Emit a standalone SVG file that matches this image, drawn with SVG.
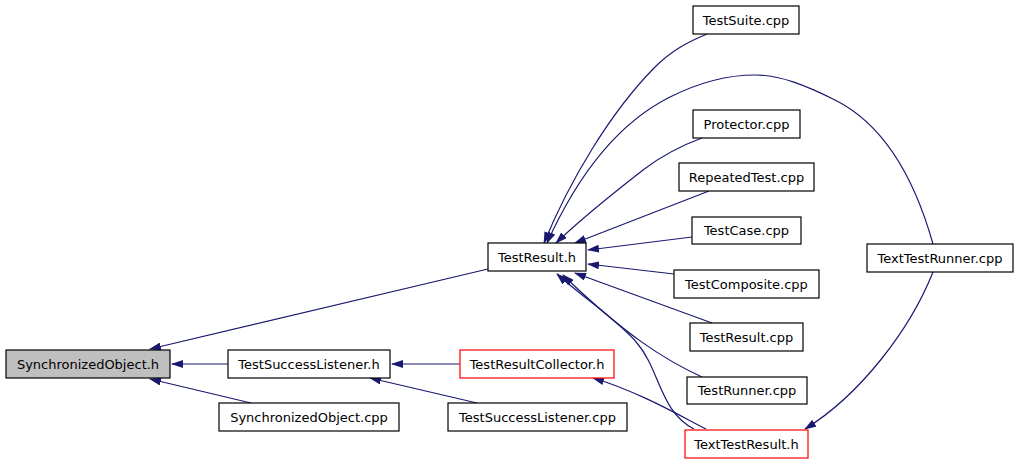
<svg xmlns="http://www.w3.org/2000/svg" width="1019" height="464" viewBox="0 0 1019 464">
<style>
.n rect{fill:#ffffff;stroke:#000000;stroke-width:1.2}
.n.red rect{stroke:#ff0000}
.n.cur rect{fill:#bfbfbf}
.n text{font-family:"DejaVu Sans","Liberation Sans",sans-serif;font-size:13px;fill:#000000;text-anchor:middle}
.e path{fill:none;stroke:#191970;stroke-width:1.2;marker-end:url(#a)}
</style>
<defs>
<marker id="a" markerWidth="12" markerHeight="8" refX="11" refY="4" orient="auto" markerUnits="userSpaceOnUse">
<path d="M0,0 L12,4 L0,8 z" fill="#191970"/>
</marker>
</defs>
<rect width="1019" height="464" fill="#ffffff"/>
<g id="edges" class="e">
<path d="M488,269 L150,349"/>
<path d="M228,364 L172,364"/>
<path d="M251,403 L150,379"/>
<path d="M460,364 L392,364"/>
<path d="M477,403 L370,378"/>
<path d="M706,429 C684,418 640,392 593,378"/>
<path d="M694,429 C660,412 660,370 637,343 C620,322 580,295 557,274"/>
<path d="M702,377 C665,360 625,335 563,275"/>
<path d="M712,323 L575,273"/>
<path d="M674,274 L588,264"/>
<path d="M692,237 L588,250"/>
<path d="M709,191 L575,243"/>
<path d="M702,138 C680,146 660,157 643,170 C620,188 585,215 556,243"/>
<path d="M707,34 C688,42 672,50 654,68 C610,113 570,180 544,243"/>
<path d="M933,244 C915,180 885,125 835,100 C805,85 780,75 755,75 C722,75 692,86 670,97 C620,122 580,170 547,243"/>
<path d="M933,272 C910,330 860,395 805,429"/>
</g>
<g id="SynchronizedObject_h" class="n cur"><rect x="6" y="350" width="164" height="28"/><text x="88" y="368.5">SynchronizedObject.h</text></g>
<g id="TestSuccessListener_h" class="n"><rect x="228" y="350" width="162" height="28"/><text x="309" y="368.5">TestSuccessListener.h</text></g>
<g id="SynchronizedObject_cpp" class="n"><rect x="219" y="403" width="180" height="28"/><text x="309" y="421.5">SynchronizedObject.cpp</text></g>
<g id="TestResultCollector_h" class="n red"><rect x="460" y="350" width="154" height="28"/><text x="537" y="368.5">TestResultCollector.h</text></g>
<g id="TestSuccessListener_cpp" class="n"><rect x="448" y="403" width="179" height="28"/><text x="537.5" y="421.5">TestSuccessListener.cpp</text></g>
<g id="TestResult_h" class="n"><rect x="488" y="243" width="98" height="28"/><text x="537" y="261.5">TestResult.h</text></g>
<g id="TestSuite_cpp" class="n"><rect x="693" y="6" width="106" height="28"/><text x="746" y="24.5">TestSuite.cpp</text></g>
<g id="Protector_cpp" class="n"><rect x="693" y="110" width="107" height="28"/><text x="746.5" y="128.5">Protector.cpp</text></g>
<g id="RepeatedTest_cpp" class="n"><rect x="679" y="163" width="135" height="28"/><text x="746.5" y="181.5">RepeatedTest.cpp</text></g>
<g id="TestCase_cpp" class="n"><rect x="692" y="217" width="109" height="27"/><text x="746.5" y="235">TestCase.cpp</text></g>
<g id="TestComposite_cpp" class="n"><rect x="674" y="270" width="145" height="28"/><text x="746.5" y="288.5">TestComposite.cpp</text></g>
<g id="TestResult_cpp" class="n"><rect x="690" y="323" width="113" height="28"/><text x="746.5" y="341.5">TestResult.cpp</text></g>
<g id="TestRunner_cpp" class="n"><rect x="687" y="377" width="120" height="27"/><text x="747" y="395">TestRunner.cpp</text></g>
<g id="TextTestResult_h" class="n red"><rect x="685" y="430" width="123" height="28"/><text x="746.5" y="448.5">TextTestResult.h</text></g>
<g id="TextTestRunner_cpp" class="n"><rect x="867" y="244" width="146" height="28"/><text x="940" y="262.5">TextTestRunner.cpp</text></g>
</svg>
